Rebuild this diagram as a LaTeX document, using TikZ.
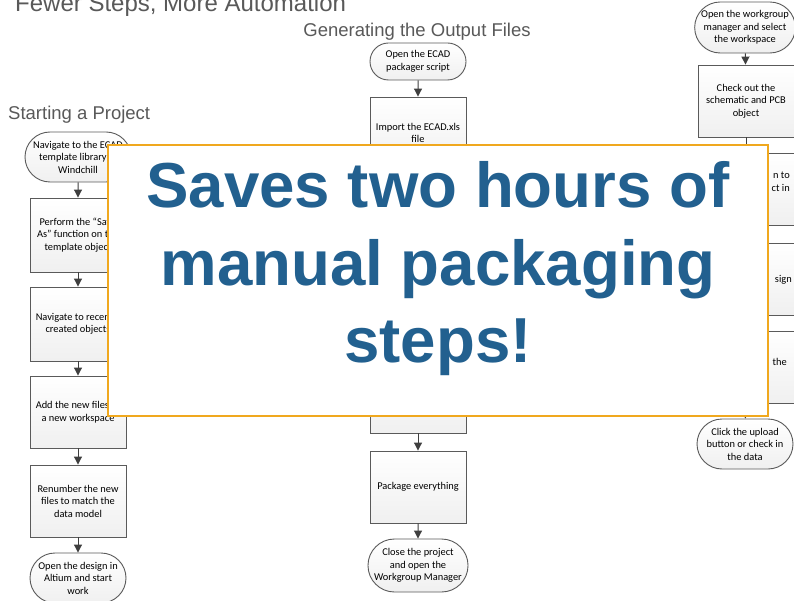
\documentclass[tikz,border=0pt]{standalone}
\usepackage{fontspec}
\newfontfamily\boxfont{Carlito}
\newfontfamily\arialfont{Liberation Sans}
\usetikzlibrary{shapes.misc,arrows.meta}
\definecolor{titlegray}{HTML}{595959}
\definecolor{edgegray}{HTML}{5A5A5A}
\definecolor{tipgray}{HTML}{3F3F3F}
\definecolor{orangeedge}{HTML}{F0A81E}
\definecolor{bluetext}{HTML}{22608F}
\tikzset{
  x=1pt, y=-1pt,
  flowtext/.style={font=\boxfont\fontsize{10.4}{12.5}\selectfont, align=center, text=black},
  procbox/.style={flowtext, rectangle, draw=edgegray, line width=0.9pt, top color=white, bottom color=black!6, minimum width=96pt, minimum height=73pt, inner sep=1pt},
  termbox/.style={flowtext, rounded rectangle, draw=edgegray, line width=0.9pt, top color=white, bottom color=black!6, minimum width=96pt, minimum height=50pt, inner sep=0pt},
  fragment/.style={flowtext, align=right, anchor=east, inner sep=0pt},
  flowarrow/.style={draw=edgegray, line width=1pt, -{Triangle[width=8pt,length=8pt]}, tipgray},
  heading/.style={font=\arialfont\fontsize{18.5}{22}\selectfont, text=titlegray, inner sep=0pt},
  bigtext/.style={font=\arialfont\bfseries\fontsize{63.6}{77}\selectfont, text=bluetext, inner sep=0pt}
}
\begin{document}
\begin{tikzpicture}
\useasboundingbox (0,0) rectangle (794,601);
\fill[white] (0,0) rectangle (794,601);

% Titles
\node[anchor=base west, font=\arialfont\fontsize{24}{28}\selectfont, text=titlegray, inner sep=0pt] (title) at (15,12) {Fewer Steps, More Automation};
\node[heading, anchor=base west] (hstart) at (8,120) {Starting a Project};
\node[heading, anchor=base] (hgen) at (417,37) {Generating the Output Files};

% Left column
\node[termbox, minimum width=106pt] (L1) at (78,157) {Navigate to the ECAD\\template library in\\Windchill};
\node[procbox, minimum height=74pt] (L2) at (78,235) {Perform the “Save\\As” function on the\\template object};
\node[procbox, minimum height=74pt] (L3) at (78,324) {Navigate to recently\\created objects};
\node[procbox, minimum height=72pt] (L4) at (78,412) {Add the new files to\\a new workspace};
\node[procbox, minimum height=72pt] (L5) at (78,501) {Renumber the new\\files to match the\\data model};
\node[termbox] (L6) at (78,578) {Open the design in\\Altium and start\\work};
\draw[flowarrow] (L1) -- (L2);
\draw[flowarrow] (L2) -- (L3);
\draw[flowarrow] (L3) -- (L4);
\draw[flowarrow] (L4) -- (L5);
\draw[flowarrow] (L5) -- (L6);

% Middle column
\node[termbox, minimum height=37pt] (M1) at (418,61.5) {Open the ECAD\\packager script};
\node[procbox, minimum height=72pt] (M2) at (418,133) {Import the ECAD.xls\\file};
\node[procbox, minimum height=72pt] (M3) at (418,221) {};
\node[procbox, minimum height=72pt] (M4) at (418,309) {};
\node[procbox, minimum height=72pt] (M5) at (418,397) {};
\node[procbox, minimum height=72pt] (M6) at (418,487) {Package everything};
\node[termbox, minimum height=53pt] (M7) at (418,565.5) {Close the project\\and open the\\Workgroup Manager};
\draw[flowarrow] (M1) -- (M2);
\draw[flowarrow] (M2) -- (M3);
\draw[flowarrow] (M3) -- (M4);
\draw[flowarrow] (M4) -- (M5);
\draw[flowarrow] (M5) -- (M6);
\draw[flowarrow] (M6) -- (M7);

% Right column
\node[termbox, minimum height=51pt] (R1) at (745,27.5) {Open the workgroup\\manager and select\\the workspace};
\node[procbox, minimum height=72pt] (R2) at (746,101) {Check out the\\schematic and PCB\\object};
\node[procbox, minimum height=72pt] (R3) at (746,189) {};
\node[procbox, minimum height=72pt] (R4) at (746,279) {};
\node[procbox, minimum height=72pt] (R5) at (746,367) {};
\node[termbox] (R6) at (745,444) {Click the upload\\button or check in\\the data};
\node[fragment] (R3t) at (790,182) {n to\\ct in};
\node[fragment] (R4t) at (792,280) {sign};
\node[fragment] (R5t) at (787,362) {the};
\draw[flowarrow] (R1) -- (R2);
\draw[flowarrow] (R2) -- (R3);
\draw[flowarrow] (R3) -- (R4);
\draw[flowarrow] (R4) -- (R5);
\draw[flowarrow] (R5) -- (R6);

% Overlay callout
\draw[draw=orangeedge, fill=white, line width=2pt] (108,145) rectangle (768,416);
\node[bigtext, anchor=base] (big1) at (438,208) {Saves two hours of};
\node[bigtext, anchor=base] (big2) at (438,285) {manual packaging};
\node[bigtext, anchor=base] (big3) at (438,362) {steps!};
\end{tikzpicture}
\end{document}
